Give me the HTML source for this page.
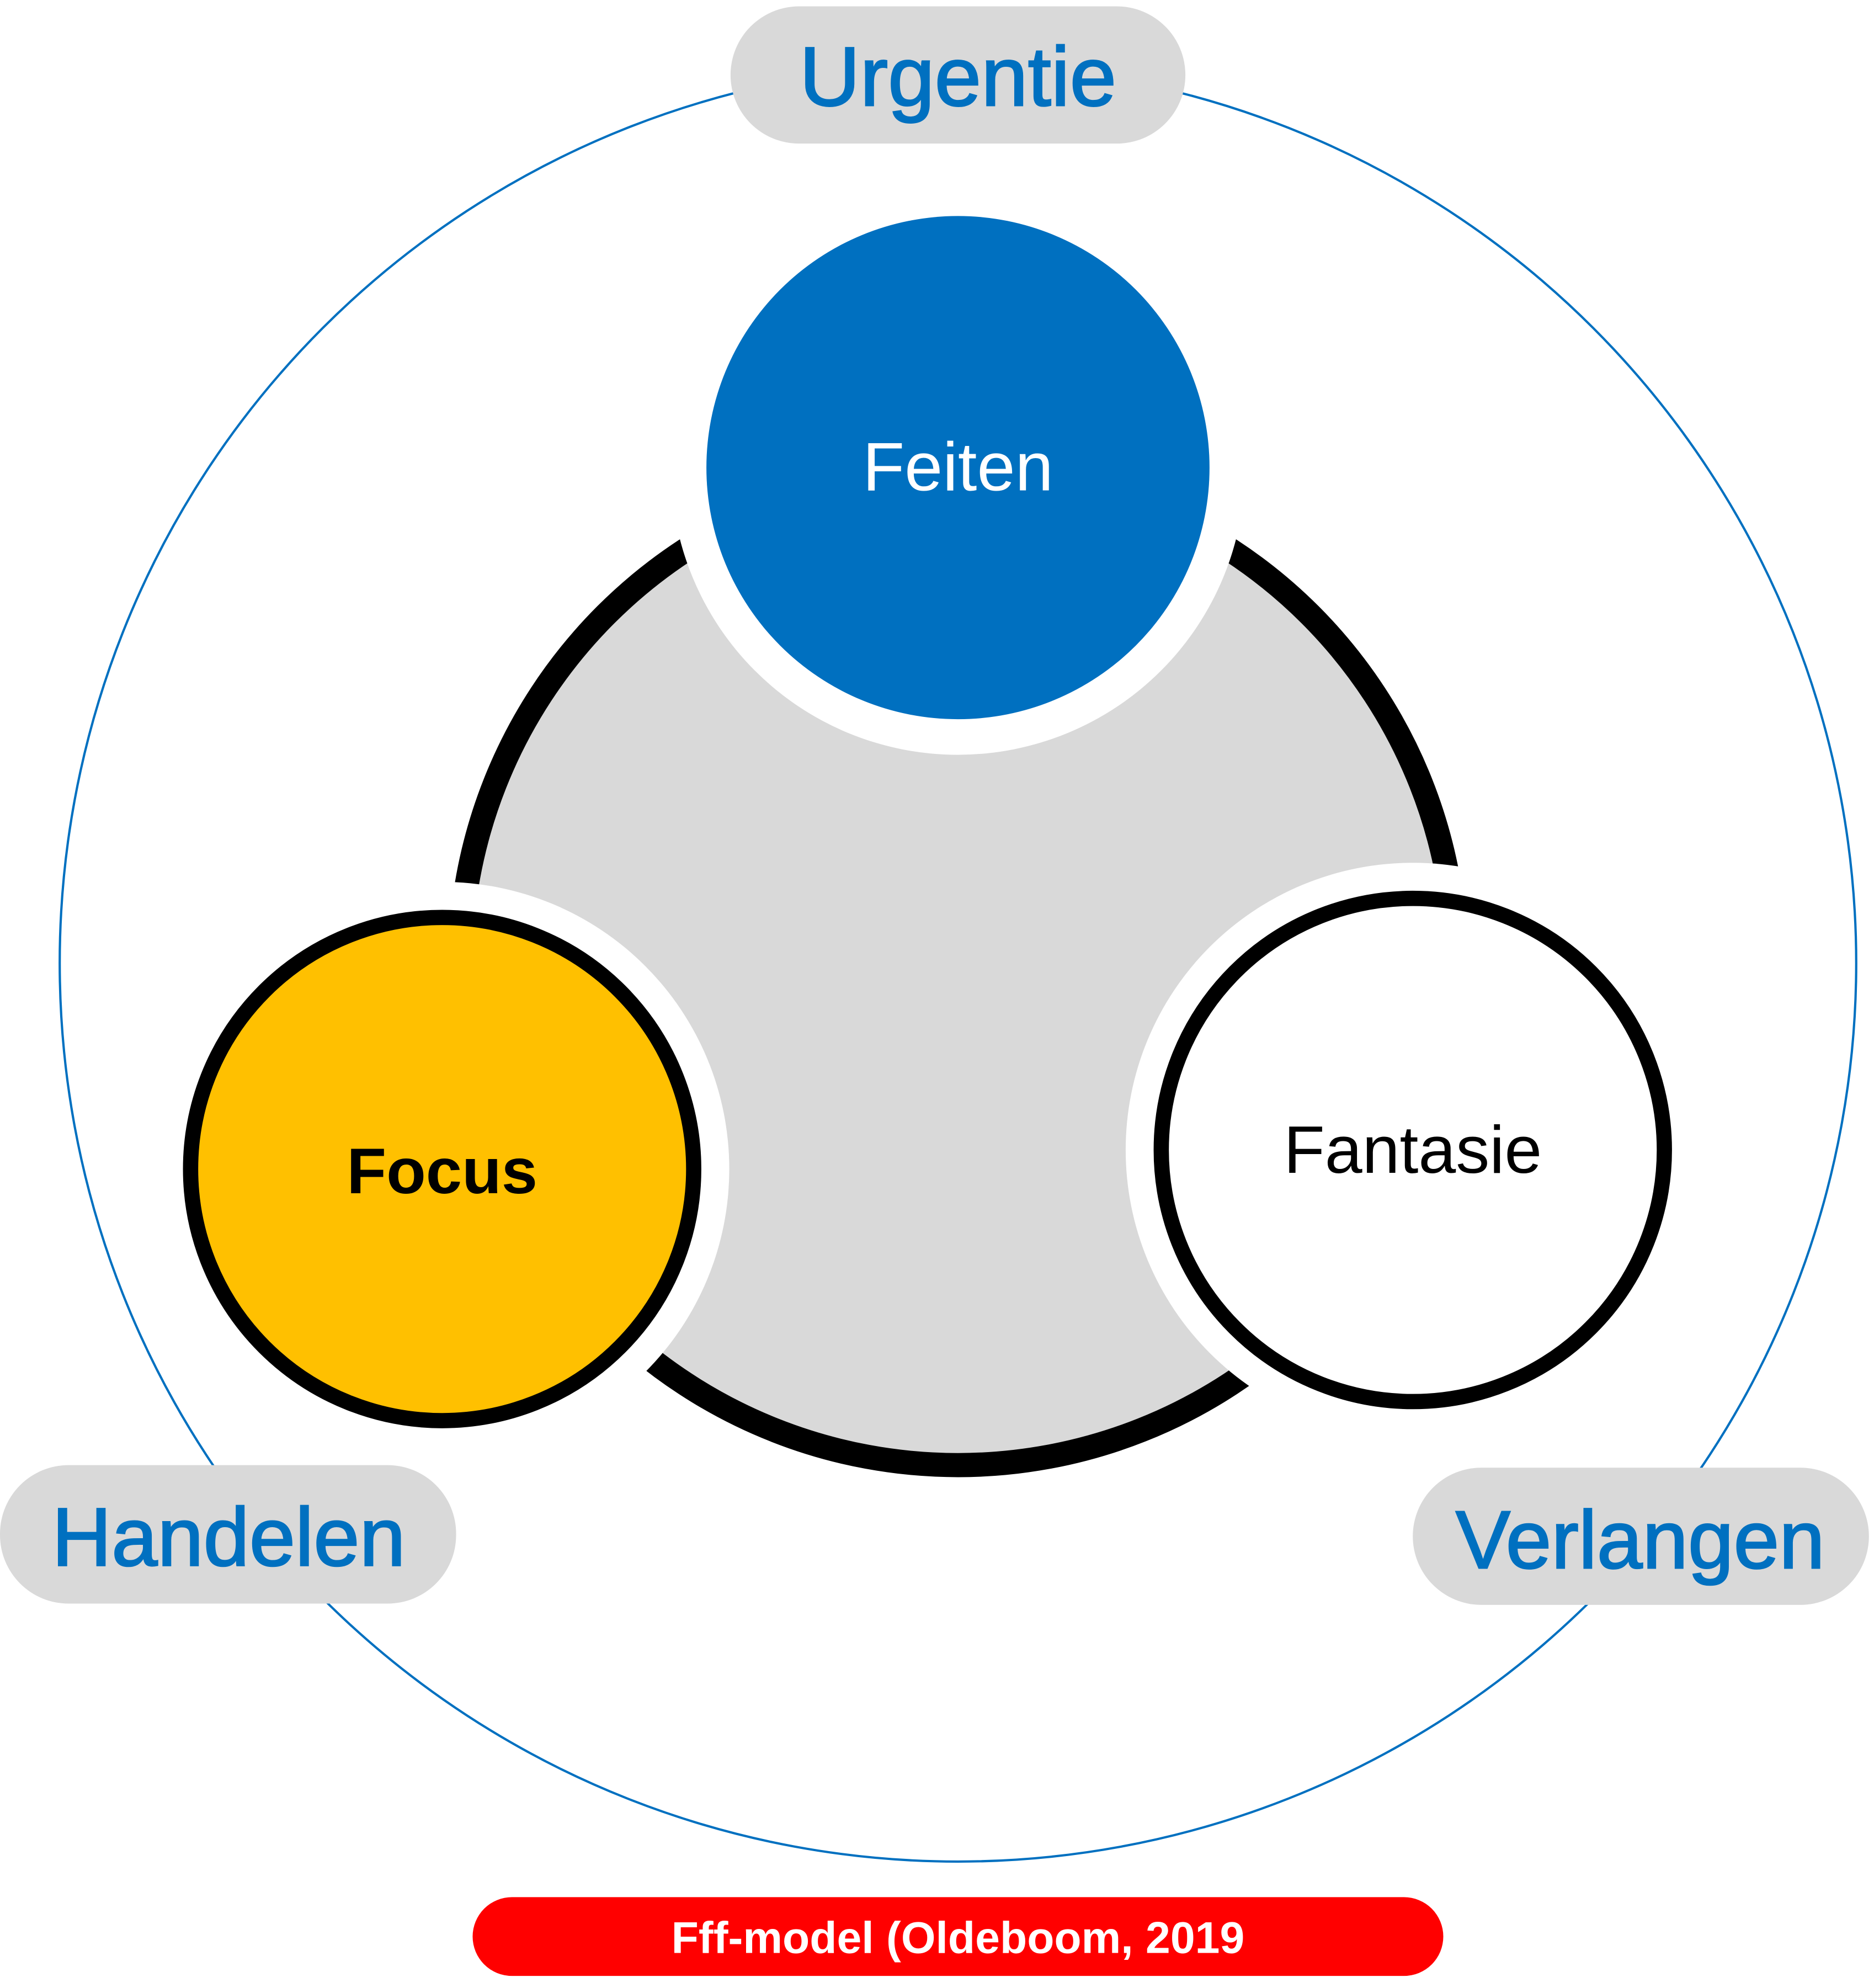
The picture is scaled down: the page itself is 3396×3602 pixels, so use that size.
<!DOCTYPE html>
<html><head><meta charset="utf-8"><style>
html,body{margin:0;padding:0;background:#fff;}
svg{display:block;}
text{font-family:"Liberation Sans","DejaVu Sans",sans-serif;}
</style></head><body>
<svg width="3396" height="3602" viewBox="0 0 1475 1564.5" preserveAspectRatio="none" xmlns="http://www.w3.org/2000/svg">
<circle cx="754" cy="758" r="707" fill="none" stroke="#0070c0" stroke-width="1.8"/>
<circle cx="754" cy="761" r="392" fill="#d9d9d9" stroke="#000" stroke-width="19"/>
<circle cx="754" cy="368" r="226" fill="#fff"/>
<circle cx="348" cy="920" r="226" fill="#fff"/>
<circle cx="1112" cy="905" r="226" fill="#fff"/>
<circle cx="754" cy="368" r="198" fill="#0070c0"/>
<circle cx="348" cy="920" r="198" fill="#ffc000" stroke="#000" stroke-width="12"/>
<circle cx="1112" cy="905" r="198" fill="#fff" stroke="#000" stroke-width="12"/>
<text x="754" y="386" font-size="54" fill="#fff" text-anchor="middle">Feiten</text>
<text x="348" y="939" font-size="51" font-weight="bold" fill="#000" text-anchor="middle">Focus</text>
<text x="1112" y="923" font-size="53" fill="#000" text-anchor="middle">Fantasie</text>
<rect x="575" y="5" width="358" height="108" rx="54" fill="#d9d9d9"/>
<rect x="0" y="1153" width="359" height="109" rx="54" fill="#d9d9d9"/>
<rect x="1112" y="1155" width="359" height="108" rx="54" fill="#d9d9d9"/>
<text x="754" y="83" font-size="66" fill="#0070c0" stroke="#0070c0" stroke-width="1.2" text-anchor="middle">Urgentie</text>
<text x="180" y="1232" font-size="65" fill="#0070c0" stroke="#0070c0" stroke-width="1.2" text-anchor="middle">Handelen</text>
<text x="1291" y="1234" font-size="64.5" fill="#0070c0" stroke="#0070c0" stroke-width="1.2" text-anchor="middle">Verlangen</text>
<rect x="372" y="1493" width="764" height="62" rx="31" fill="#ff0000"/>
<text x="754" y="1537" font-size="35" font-weight="bold" fill="#fff" text-anchor="middle">Fff-model (Oldeboom, 2019</text>
</svg>
</body></html>
